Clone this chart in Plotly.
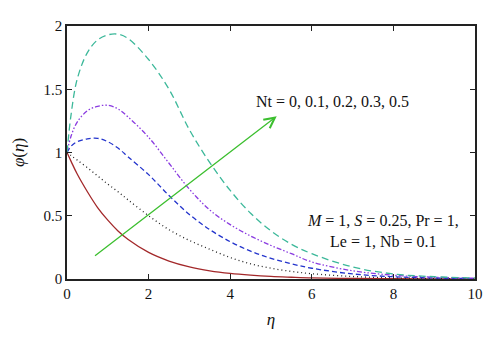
import plotly.graph_objects as go

# eta grid and phi(eta) profiles
eta = [0, 0.1, 0.25, 0.5, 0.75, 1, 1.25, 1.5, 2, 2.5, 3, 3.5, 4, 4.5, 5, 5.5, 6, 7, 8, 9, 10]
phi_nt0 = [1, 0.93, 0.83, 0.69, 0.565, 0.465, 0.38, 0.312, 0.21, 0.142, 0.096, 0.065, 0.044,
           0.03, 0.02, 0.014, 0.009, 0.004, 0.002, 0.001, 0.0005]
phi_nt01 = [1, 0.975, 0.94, 0.88, 0.815, 0.75, 0.69, 0.625, 0.50, 0.39, 0.305, 0.235, 0.17,
            0.12, 0.085, 0.06, 0.042, 0.02, 0.009, 0.004, 0.002]
phi_nt02 = [1, 1.05, 1.085, 1.108, 1.112, 1.085, 1.035, 0.965, 0.825, 0.66, 0.51, 0.39, 0.295,
            0.22, 0.163, 0.12, 0.085, 0.04, 0.018, 0.008, 0.003]
phi_nt03 = [1, 1.13, 1.24, 1.33, 1.365, 1.373, 1.345, 1.28, 1.12, 0.915, 0.71, 0.545, 0.43,
            0.34, 0.265, 0.2, 0.135, 0.065, 0.03, 0.014, 0.006]
phi_nt05 = [1, 1.3, 1.58, 1.79, 1.89, 1.93, 1.935, 1.9, 1.735, 1.5, 1.18, 0.92, 0.70,
            0.52, 0.38, 0.275, 0.2, 0.095, 0.04, 0.018, 0.008]

x_ticks = [0, 2, 4, 6, 8, 10]
y_ticks = [0, 0.5, 1, 1.5, 2]
y_tick_labels = ["0", "0.5", "1", "1.5", "2"]

series = [
    (phi_nt0, "#a3282a", "solid"),
    (phi_nt01, "#222222", "1px,3px"),
    (phi_nt02, "#2233cc", "5px,3px"),
    (phi_nt03, "#8a3be0", "5px,2px,1.5px,2px,1.5px,2px"),
    (phi_nt05, "#3cb89a", "7px,4px"),
]

SERIF = "Liberation Serif"

fig = go.Figure()
for ys, col, dash in series:
    fig.add_trace(go.Scatter(
        x=eta, y=ys, mode="lines",
        line=dict(color=col, width=1.3, dash=dash, shape="spline"),
        showlegend=False, hoverinfo="skip"))

axis_common = dict(
    showline=True, linecolor="#222222", linewidth=1.5, mirror="allticks",
    ticks="inside", ticklen=5, tickwidth=1.2, tickcolor="#222222",
    showgrid=False, zeroline=False,
    tickfont=dict(family=SERIF, size=15, color="#111111"),
)

fig.update_layout(
    width=500, height=345,
    margin=dict(l=67, r=25, t=26, b=66),
    paper_bgcolor="white", plot_bgcolor="white",
    font=dict(family=SERIF),
    xaxis=dict(range=[0, 10], tickvals=x_ticks, **axis_common,
               title=dict(text="<i>η</i>", font=dict(family=SERIF, size=17, color="#111111"),
                          standoff=12)),
    yaxis=dict(range=[0, 2], tickvals=y_ticks, ticktext=y_tick_labels, **axis_common,
               title=dict(text="<i>φ</i>(<i>η</i>)", font=dict(family=SERIF, size=17, color="#111111"),
                          standoff=15)),
)

# arrow indicating increasing Nt
arrow_tail = (0.65, 0.174)
arrow_tip = (5.14, 1.287)
fig.add_annotation(
    x=arrow_tip[0], y=arrow_tip[1], ax=arrow_tail[0], ay=arrow_tail[1],
    xref="x", yref="y", axref="x", ayref="y", text="",
    showarrow=True, arrowhead=5, arrowsize=1.6, arrowwidth=1.3, arrowcolor="#3cbf2f")

fig.add_annotation(
    x=6.5, y=1.40, xref="x", yref="y", text="Nt = 0, 0.1, 0.2, 0.3, 0.5",
    showarrow=False, font=dict(family=SERIF, size=16, color="#111111"))

fig.add_annotation(
    x=7.75, y=0.464, xref="x", yref="y",
    text="<i>M</i> = 1, <i>S</i> = 0.25, Pr = 1,",
    showarrow=False, yanchor="middle",
    font=dict(family=SERIF, size=16, color="#111111"))
fig.add_annotation(
    x=7.75, y=0.293, xref="x", yref="y",
    text="Le = 1, Nb = 0.1",
    showarrow=False, yanchor="middle",
    font=dict(family=SERIF, size=16, color="#111111"))

fig.write_html("out.html")
